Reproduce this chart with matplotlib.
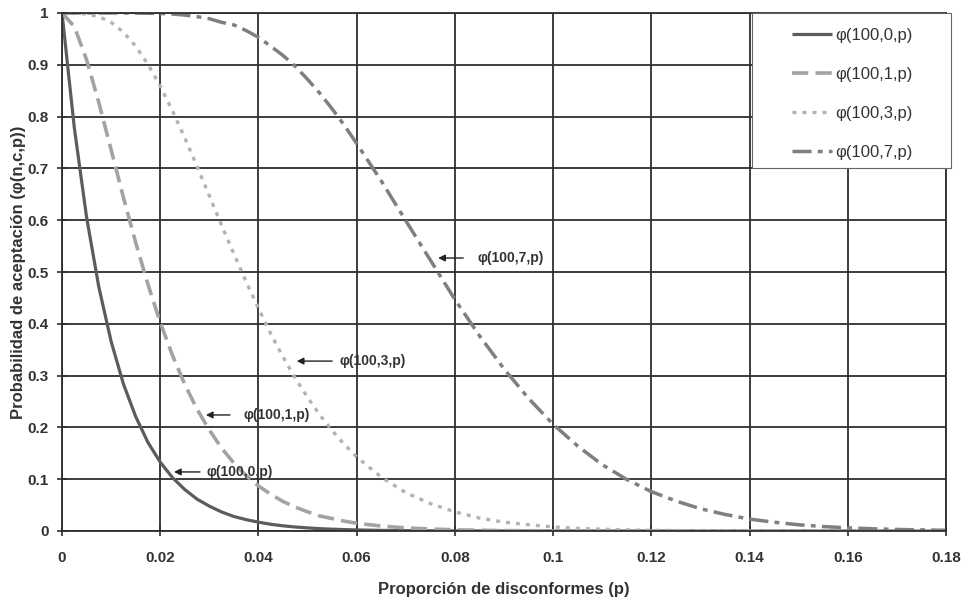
import matplotlib
matplotlib.use("Agg")
import matplotlib.pyplot as plt
from matplotlib.patches import Rectangle

plt.rcParams['font.family'] = ['Liberation Sans', 'DejaVu Sans']

p = [0, 0.0025, 0.005, 0.0075, 0.01, 0.0125, 0.015, 0.0175, 0.02, 0.0225,
     0.025, 0.0275, 0.03, 0.0325, 0.035, 0.0375, 0.04, 0.0425, 0.045, 0.0475,
     0.05, 0.0525, 0.055, 0.0575, 0.06,
     0.065, 0.07, 0.075, 0.08, 0.085, 0.09, 0.095, 0.10, 0.105, 0.11, 0.115, 0.12,
     0.125, 0.13, 0.135, 0.14, 0.145, 0.15, 0.155, 0.16, 0.165, 0.17, 0.175, 0.18]

pa_c0 = [1, 0.779, 0.606, 0.471, 0.366, 0.284, 0.221, 0.171, 0.133, 0.103,
         0.080, 0.0615, 0.048, 0.0367, 0.028, 0.0219, 0.017, 0.013, 0.010, 0.0077,
         0.006, 0.0045, 0.0035, 0.0027, 0.0021,
         0.0012, 0.0007, 0.0004, 0.0002, 0.0001, 0.0001, 0, 0, 0, 0, 0, 0,
         0, 0, 0, 0, 0, 0, 0, 0, 0, 0, 0, 0]
pa_c1 = [1, 0.974, 0.910, 0.827, 0.736, 0.644, 0.557, 0.476, 0.403, 0.339,
         0.283, 0.235, 0.195, 0.160, 0.131, 0.107, 0.087, 0.071, 0.057, 0.046,
         0.037, 0.029, 0.024, 0.019, 0.015,
         0.0096, 0.006, 0.0038, 0.0023, 0.0014, 0.0008, 0.0005, 0.0003, 0.0002, 0.0001, 0, 0,
         0, 0, 0, 0, 0, 0, 0, 0, 0, 0, 0, 0]
pa_c3 = [1, 1.0, 0.998, 0.993, 0.982, 0.963, 0.936, 0.901, 0.859, 0.811,
         0.759, 0.704, 0.647, 0.590, 0.535, 0.481, 0.430, 0.381, 0.336, 0.295,
         0.258, 0.224, 0.194, 0.167, 0.143,
         0.104, 0.074, 0.053, 0.037, 0.025, 0.017, 0.012, 0.008, 0.005, 0.0034, 0.0022, 0.0014,
         0.0009, 0.0006, 0.0004, 0.0002, 0.0001, 0.0001, 0, 0, 0, 0, 0, 0]
pa_c7 = [1, 1, 1, 1, 1.0, 1.0, 1.0, 0.9995, 0.999, 0.998,
         0.996, 0.993, 0.989, 0.982, 0.977, 0.966, 0.953, 0.936, 0.918, 0.897,
         0.872, 0.845, 0.815, 0.783, 0.748,
         0.676, 0.599, 0.523, 0.447, 0.377, 0.313, 0.256, 0.206, 0.164, 0.128, 0.0995, 0.076,
         0.058, 0.043, 0.032, 0.023, 0.017, 0.012, 0.0086, 0.0061, 0.0043, 0.0030, 0.0021, 0.0014]

labels = ['φ(100,0,p)', 'φ(100,1,p)', 'φ(100,3,p)', 'φ(100,7,p)']
x_ticks = [0, 0.02, 0.04, 0.06, 0.08, 0.10, 0.12, 0.14, 0.16, 0.18]
x_tick_labels = ['0', '0.02', '0.04', '0.06', '0.08', '0.1', '0.12', '0.14', '0.16', '0.18']
y_ticks = [0, 0.1, 0.2, 0.3, 0.4, 0.5, 0.6, 0.7, 0.8, 0.9, 1.0]
y_tick_labels = ['0', '0.1', '0.2', '0.3', '0.4', '0.5', '0.6', '0.7', '0.8', '0.9', '1']

W, H = 970, 598
fig = plt.figure(figsize=(9.7, 5.98), dpi=100)
ax = fig.add_axes([62/W, 1-531/H, 884/W, 518/H])

ax.set_xlim(0, 0.18)
ax.set_ylim(0, 1)
ax.set_xticks(x_ticks)
ax.set_xticklabels(x_tick_labels)
ax.set_yticks(y_ticks)
ax.set_yticklabels(y_tick_labels)
ax.grid(True, color='#2e2e2e', linewidth=1.3)
ax.set_axisbelow(True)
for s in ax.spines.values():
    s.set_color('#2e2e2e')
    s.set_linewidth(1.3)
ax.tick_params(direction='inout', length=7, width=1.2, color='#2e2e2e',
               labelsize=11, labelcolor='#333333')
ax.tick_params(axis='x', pad=11)
ax.tick_params(axis='y', pad=6)
for t in ax.get_xticklabels() + ax.get_yticklabels():
    t.set_fontweight('bold')

l0, = ax.plot(p, pa_c0, color='#5c5c5c', lw=2.3, solid_capstyle='butt', label=labels[0])
l1, = ax.plot(p, pa_c1, color='#a3a3a3', lw=2.6, dashes=(4.5, 2.0), label=labels[1])
l3, = ax.plot(p, pa_c3, color='#b3b3b3', lw=2.4, dashes=(1.2, 1.8), label=labels[2])
l7, = ax.plot(p, pa_c7, color='#7f7f7f', lw=2.5, dashes=(5.5, 1.8, 1.4, 1.8), label=labels[3])

# legend box
bx0 = (752 - 62) / 884
by0 = (531 - 168) / 518
box = Rectangle((bx0, by0), 1.0057 - bx0, 1.0 - by0, transform=ax.transAxes,
                facecolor='white', edgecolor='#666666', lw=0.8, zorder=4.5,
                clip_on=False)
ax.add_patch(box)
leg = ax.legend(handles=[l0, l1, l3, l7], loc='upper left',
                bbox_to_anchor=((792 - 62) / 884, (531 - 28) / 518),
                borderaxespad=0, borderpad=0, frameon=False, fontsize=12,
                labelspacing=1.43, handlelength=2.4, handletextpad=0.2)
for t in leg.get_texts():
    t.set_color('#333333')

ann = [
    (labels[3], 0.0766, 0.527, 0.0817, 0.0847),
    (labels[2], 0.0478, 0.328, 0.0550, 0.0566),
    (labels[1], 0.0293, 0.224, 0.0342, 0.0370),
    (labels[0], 0.0228, 0.114, 0.0281, 0.0295),
]
for txt, xt, yv, xs, xl in ann:
    ax.annotate('', xy=(xt, yv), xytext=(xs, yv),
                arrowprops=dict(arrowstyle='-|>', color='#222222', lw=1.0,
                                mutation_scale=10, shrinkA=0, shrinkB=0))
    ax.text(xl, yv, txt, fontsize=10, fontweight='bold', color='#333333',
            va='center', ha='left')

ax.set_xlabel('Proporción de disconformes (p)', fontsize=12, fontweight='bold',
              color='#333333', labelpad=12)
ax.set_ylabel('Probabilidad de aceptación (φ(n,c,p))', fontsize=12,
              fontweight='bold', color='#333333', labelpad=1)

fig.savefig('out.png', dpi=100)
